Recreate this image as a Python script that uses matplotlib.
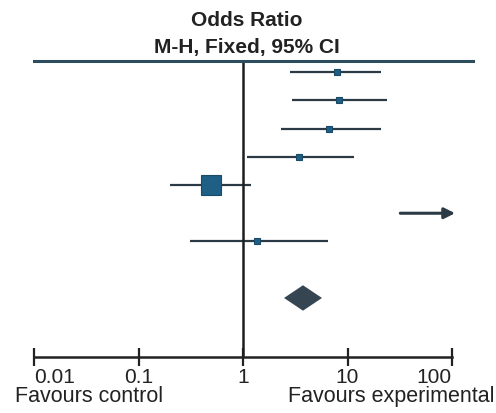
import numpy as np
import matplotlib
matplotlib.use("Agg")
import matplotlib.pyplot as plt

# study rows (odds ratio, 95% CI)
row_pos = [0, 1, 2, 3, 4, 5, 6]
or_est = [7.9, 8.3, 6.6, 3.4, 0.49, None, 1.36]
ci_low = [2.8, 2.95, 2.3, 1.09, 0.20, 32.0, 0.31]
ci_high = [21.0, 24.0, 21.0, 11.5, 1.19, None, 6.5]
weights = [1, 1, 1, 1, 6, 0, 1]

# pooled estimate
pooled_pos = 8
pooled_or = 3.75
pooled_low = 2.47
pooled_high = 5.7

tick_vals = [0.01, 0.1, 1, 10, 100]
tick_labels = ['0.01', '0.1', '1', '10', '100']

plt.rcParams['font.family'] = ['Liberation Sans', 'DejaVu Sans']

W, H = 496, 414
fig = plt.figure(figsize=(W / 100, H / 100), dpi=100)
ax = fig.add_axes([34 / W, 1 - 358 / H, (473 - 34) / W, (358 - 62) / H])
ax.set_xscale('log')
xmax = 10 ** (-2 + (473 - 34) / 104.5)
ax.set_xlim(0.01, xmax)
ax.set_ylim(10.09, -0.39)

line_col = '#2b3a44'
sq_col = '#1f5f85'
txt_col = '#222222'

for y, est, lo, hi, w in zip(row_pos, or_est, ci_low, ci_high, weights):
    if hi is None:
        # CI runs off the scale
        ax.annotate('', xy=(107, y), xytext=(lo, y),
                    arrowprops=dict(arrowstyle='-|>', color=line_col, lw=2.2,
                                    mutation_scale=16, shrinkA=0, shrinkB=0))
        continue
    ax.plot([lo, hi], [y, y], color=line_col, lw=1.6, solid_capstyle='butt')
    ax.plot(est, y, marker='s', ms=5 if w == 1 else 14, color=sq_col,
            mec='#1a4a66', mew=0.8)

# pooled diamond
ax.fill([pooled_low, pooled_or, pooled_high, pooled_or],
        [pooled_pos, pooled_pos - 0.45, pooled_pos, pooled_pos + 0.45],
        color='#354652', lw=0)

# null line and top rule
ax.axvline(1, color='#1e1e1e', lw=1.8)
ax.axhline(-0.39, color='#2d4d5e', lw=2.2, clip_on=False)

for s in ['top', 'right', 'left']:
    ax.spines[s].set_visible(False)
ax.spines['bottom'].set_bounds(0.01, 100)
ax.spines['bottom'].set_linewidth(1.8)
ax.spines['bottom'].set_color(txt_col)
ax.set_yticks([])
ax.set_xticks(tick_vals)
ax.set_xticklabels(tick_labels)
ax.minorticks_off()
ax.tick_params(axis='x', direction='inout', length=13, width=1.6,
               labelsize=15, pad=1, colors=txt_col)
labs = ax.get_xticklabels()
labs[0].set_ha('left')
labs[-1].set_ha('right')

fig.text(247 / W, 1 - 20 / H, 'Odds Ratio', ha='center', va='center',
         fontsize=15, fontweight='bold', color=txt_col)
fig.text(247 / W, 1 - 47 / H, 'M-H, Fixed, 95% CI', ha='center', va='center',
         fontsize=15, fontweight='bold', color=txt_col)
fig.text(15 / W, 1 - 397 / H, 'Favours control', ha='left', va='center',
         fontsize=15.5, color=txt_col)
fig.text(494 / W, 1 - 397 / H, 'Favours experimental', ha='right', va='center',
         fontsize=15.5, color=txt_col)

fig.savefig('out.png', dpi=100)
